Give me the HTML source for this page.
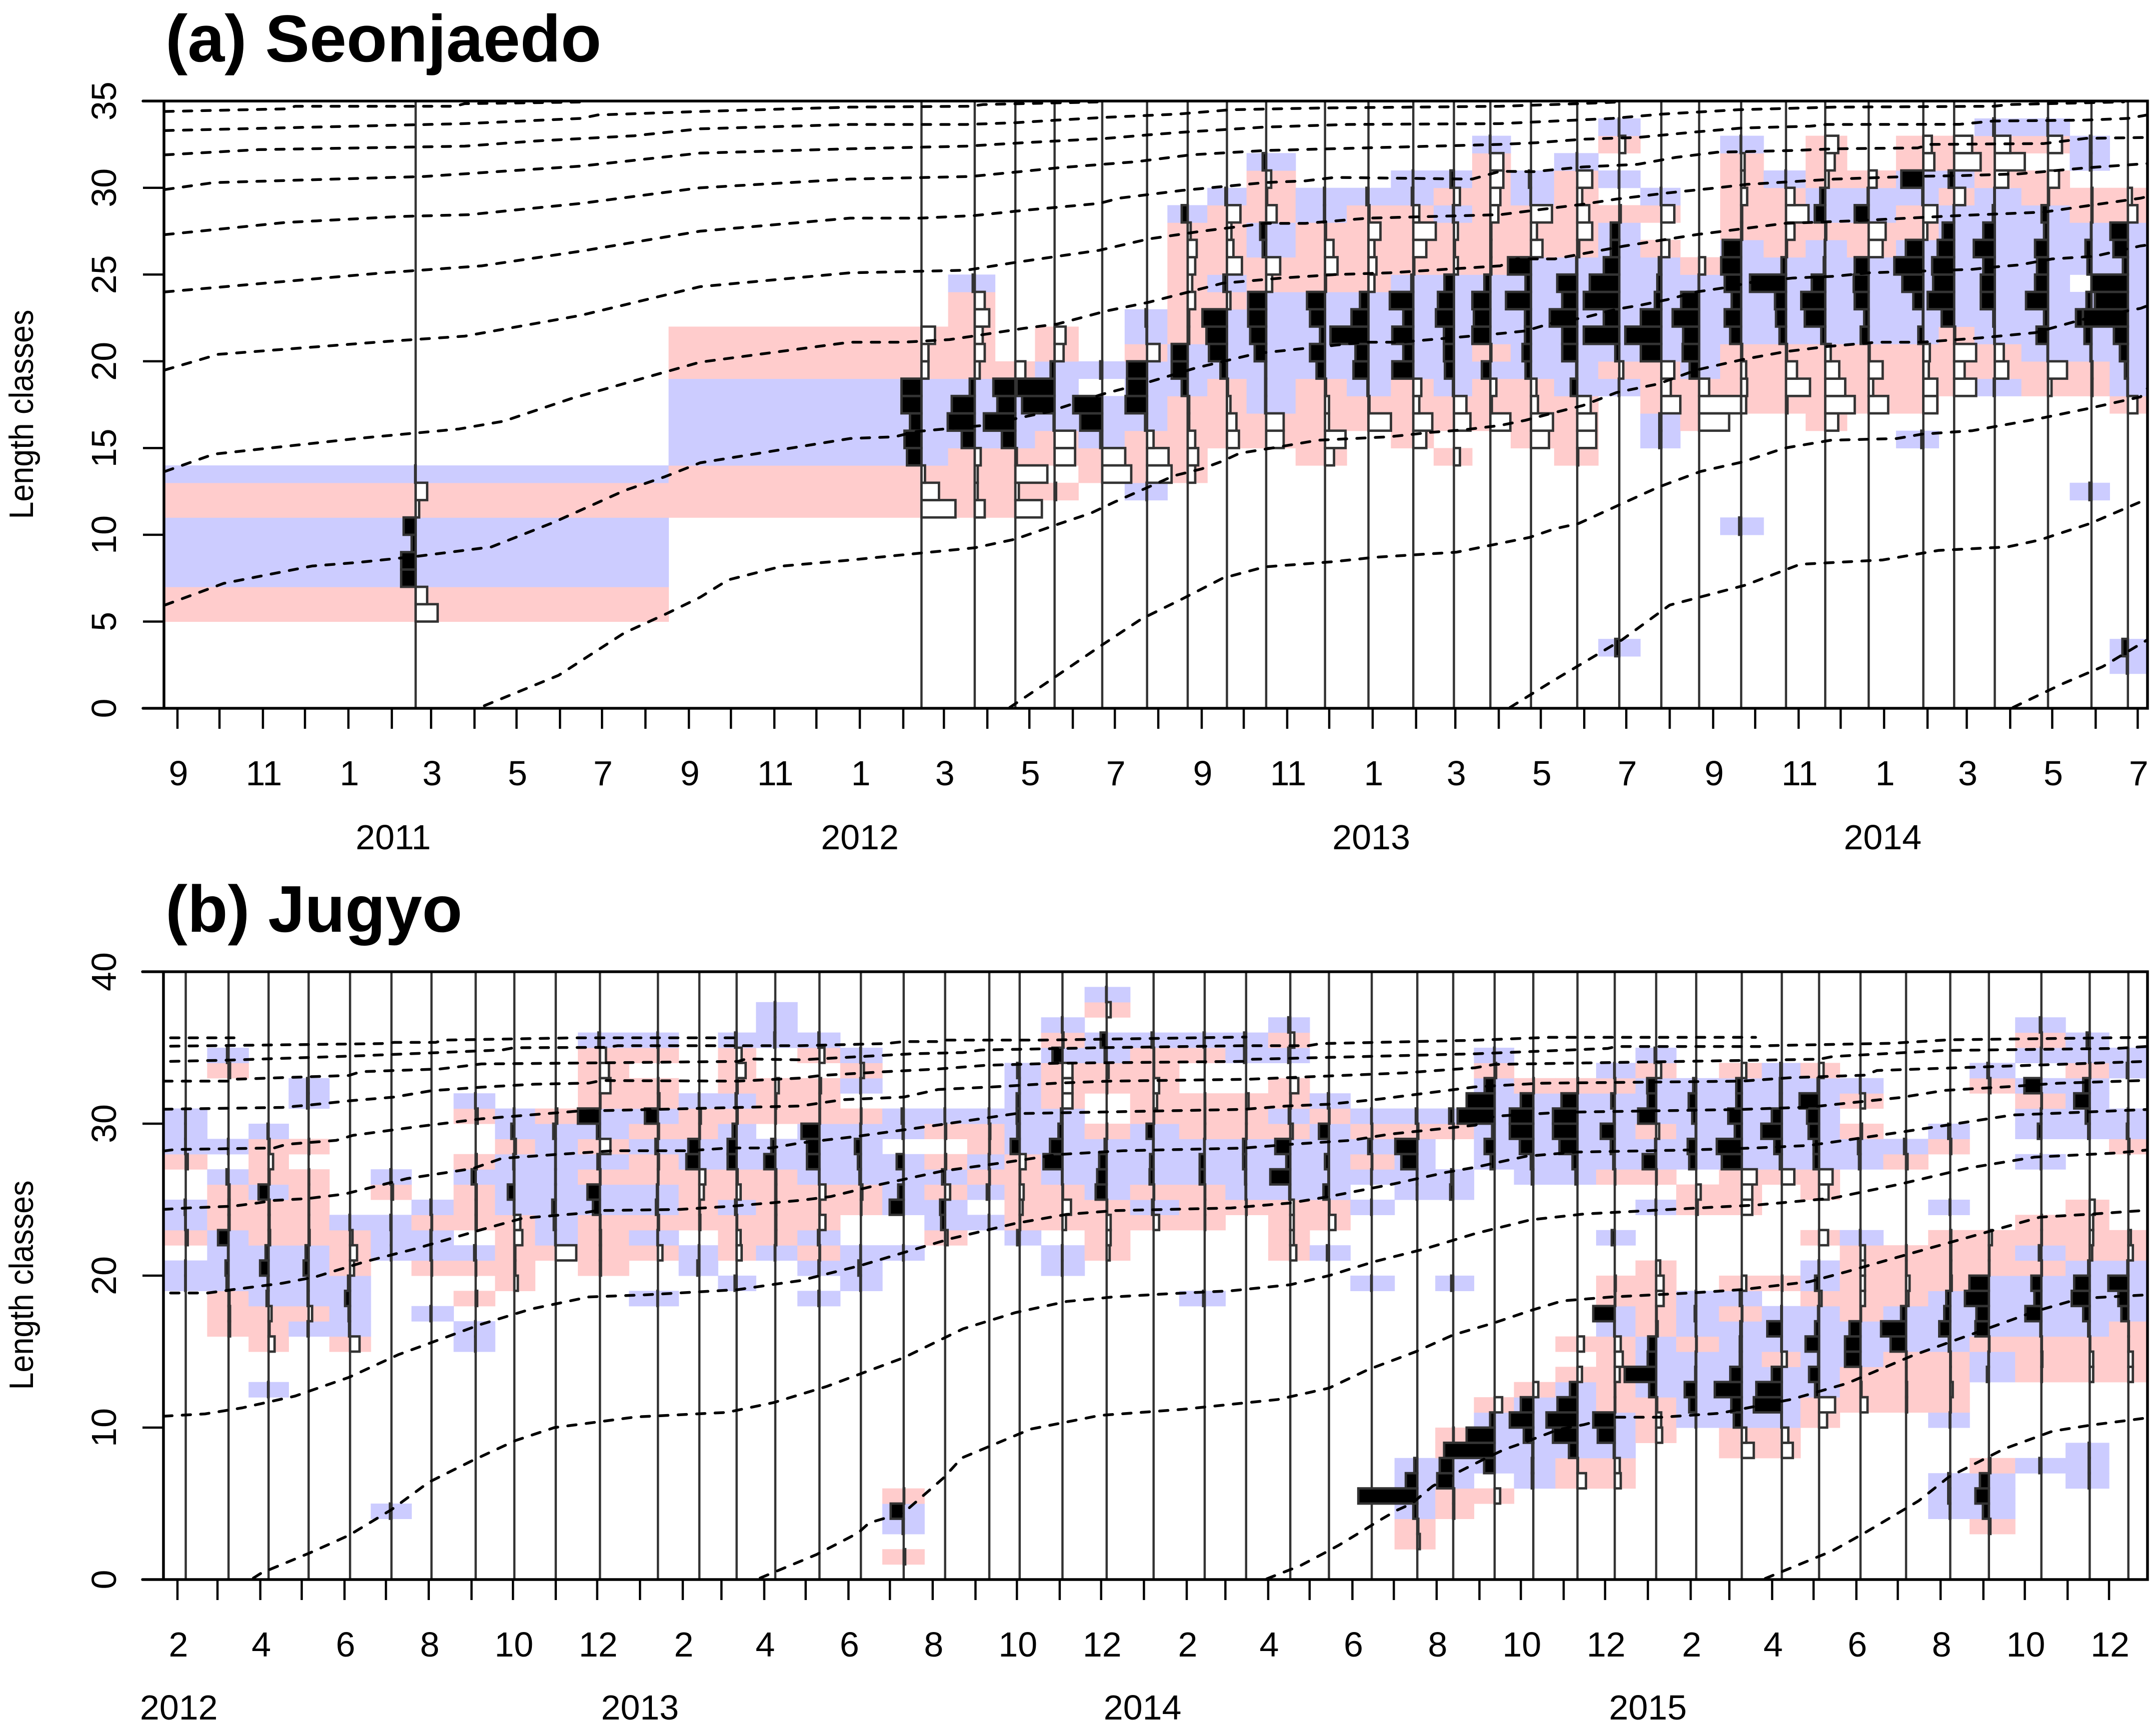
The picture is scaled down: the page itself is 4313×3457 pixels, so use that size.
<!DOCTYPE html>
<html lang="en">
<head>
<meta charset="utf-8">
<title>Length class restructured scores: Seonjaedo and Jugyo</title>
<style>
html,body{margin:0;padding:0;background:#fff}
svg{display:block}
text{font-family:"Liberation Sans",Arial,sans-serif;fill:#000}
</style>
</head>
<body>
<svg id="chart" xmlns="http://www.w3.org/2000/svg" width="4313" height="3457" viewBox="0 0 4313 3457">
<rect x="0" y="0" width="4313" height="3457" fill="#fff"/>
<text x="331" y="123" font-size="133" font-weight="bold">(a) Seonjaedo</text>
<text x="331" y="1864" font-size="132" font-weight="bold">(b) Jugyo</text>
<text transform="translate(66,829) rotate(-90)" text-anchor="middle" font-size="68" textLength="419" lengthAdjust="spacingAndGlyphs">Length classes</text>
<text transform="translate(66,2571) rotate(-90)" text-anchor="middle" font-size="68" textLength="419" lengthAdjust="spacingAndGlyphs">Length classes</text>
<g id="panel-a"></g>
<g id="panel-b"></g>
</svg>
<script>
// ---- Panel (a) Seonjaedo data. Days count from 1 Sep 2010; lengths in length-class units. ----
const sampleDaysA = [170,531,569,598,626,660,692,721,749,777,819,850,882,911,937,966,999,1029,1059,1086,1116,1148,1176,1207,1246,1268,1297,1335,1366,1392];
// each entry: [lowest length class, restructured scores upward from that class]
const scoresA = [
[5,[44,23,-29,-29,-8,-24,7,23,-1]],
[11,[68,35,7,-29,-34,-23,-40,-40,14,14,27]],
[11,[20,6,6,12,-26,-54,-46,-10,10,20,16,29,20,-4]],
[11,[53,7,64,3,-27,-63,-36,-44,20]],
[12,[3,0,41,41,-2,-65,-76,-8,18,22]],
[13,[58,46,-4,-44,-58,0,-4]],
[12,[-1,49,43,13,-4,-43,-40,-40,25,-1,-3]],
[13,[15,21,15,3,3,-12,-32,-32,3,3,15,9,15,18,6,-12]],
[15,[24,19,7,2,-13,-36,-41,-49,7,-7,30,13,9,27,-3]],
[15,[35,35,-2,-2,-2,-23,-32,-36,-36,12,28,-7,-12,21,2,10,-7]],
[14,[18,41,8,8,2,-17,-30,-10,-30,-36,2,25,17,2,-2,-2]],
[16,[45,2,-2,-30,-26,-76,-34,-17,12,16,12,24,2,-4]],
[15,[26,38,12,16,-42,-20,-42,-20,-47,-4,2,26,45,12,-3,-1]],
[14,[12,0,33,25,-2,-18,-20,-20,-36,-32,-19,8,2,8,-2,12,-7]],
[16,[40,3,12,-17,2,-36,-33,-36,-12,2,2,2,16,20,26,26,-1]],
[15,[36,44,14,11,-11,-17,-12,-12,-50,-11,-46,23,12,42,-1,-4]],
[14,[2,38,38,27,-13,-2,-30,-30,-55,-30,-40,-2,4,30,24,10,30,-1]],
[3,[-8,0,0,0,0,0,0,0,0,0,0,0,0,0,0,-1,8,-8,-71,-31,-71,-59,-31,-17,-17,3,0,-1,0,12,-1]],
[15,[-4,-4,38,19,26,-41,-72,-41,-13,-8,-5,16,0,26,-1]],
[16,[60,84,20,-19,-33,-32,-53,-36,-1,12]],
[10,[-4,0,0,0,0,0,0,10,12,10,2,-22,-33,-19,-33,-40,-37,2,2,12,7,7,-1]],
[17,[3,48,22,2,-13,-20,-22,-72,-9,2,17,45,17,-1]],
[16,[26,59,40,28,11,-8,-41,-48,-27,-3,-1,2,-21,-10,7,19,26]],
[17,[39,9,28,2,-16,-9,-28,-30,-28,28,34,-28,-2,16]],
[15,[-4,0,28,28,11,13,-10,-1,-20,-42,-58,-35,8,28,-2,-44,22,17]],
[18,[44,21,44,2,-25,-53,-42,-44,-33,-23,-1,22,-11,53,36]],
[18,[-2,27,18,-1,-3,-28,-28,-23,-42,-23,-4,-1,27,60,31,-3]],
[18,[7,38,-1,-23,-8,-44,-26,-22,-26,-8,-13,2,22,0,28,-1]],
[12,[-4,0,0,0,0,0,2,2,-2,-14,-31,-10,0,-8,-12,-1,2,2,0,-3,-3]],
[2,[-2,-11,0,0,0,0,0,0,0,0,0,0,0,0,0,19,-1,-6,-16,-28,-90,-66,-73,-10,-29,-35,19,8]]
];
// growth curves: [day, length] readings
const curvesA = [
[[-9,34.4],[77,34.55],[84,34.7],[198,34.7],[205,34.85],[294,34.95]],
[[-9,33.3],[205,33.7],[288,34.0],[300,34.2],[373,34.4],[480,34.65],[566,34.7],[575,34.8],[658,34.95]],
[[-9,31.9],[58,32.2],[205,32.4],[256,32.7],[326,33],[373,33.4],[480,33.65],[563,33.65],[598,33.75],[628,33.9],[660,34.05],[714,34.25],[752,34.5],[817,34.6],[944,34.7],[1000,34.85],[1030,34.95]],
[[-9,29.9],[26,30.3],[176,30.65],[288,31.25],[373,32],[480,32.25],[563,32.4],[604,32.6],[663,32.85],[693,33.05],[717,33.2],[776,33.5],[835,33.65],[944,33.7],[1024,34],[1060,34.25],[1114,34.5],[1183,34.65],[1296,34.7],[1308,34.8],[1389,34.95]],
[[-9,27.3],[77,28],[160,28.35],[208,28.45],[288,29.1],[373,30],[480,30.5],[566,30.65],[604,30.95],[628,31.15],[684,31.5],[723,31.9],[776,32.15],[944,32.5],[970,32.6],[1003,32.8],[1042,32.9],[1081,33.2],[1117,33.45],[1165,33.55],[1177,33.65],[1272,33.66],[1296,33.85],[1362,33.9],[1392,34],[1406,34.2]],
[[-9,24],[147,25.1],[217,25.5],[288,26.35],[373,27.5],[480,28.25],[530,28.25],[569,28.4],[604,28.7],[658,29.1],[672,29.4],[717,29.85],[776,30.3],[805,30.4],[826,30.6],[924,30.5],[944,30.95],[968,30.93],[1003,31.2],[1042,31.35],[1069,31.75],[1099,32.05],[1153,32.15],[1183,32.25],[1242,32.3],[1251,32.5],[1332,32.55],[1362,32.85],[1406,32.9]],
[[-9,19.5],[29,20.4],[150,21.15],[205,21.45],[288,22.65],[373,24.3],[480,25.1],[563,25.25],[598,25.7],[628,26.05],[658,26.4],[693,27.05],[731,27.5],[776,27.95],[805,27.95],[850,28.25],[944,28.45],[968,28.7],[1003,29.05],[1027,29.35],[1063,29.7],[1099,30],[1120,30.2],[1183,30.5],[1236,30.65],[1272,30.7],[1314,30.8],[1362,31.15],[1406,31.4]],
[[-9,13.65],[26,14.65],[128,15.55],[201,16.1],[233,16.55],[281,17.85],[373,19.95],[480,21.1],[518,21.1],[551,21.25],[572,21.5],[604,21.9],[628,22.15],[663,22.9],[693,23.4],[746,24.5],[788,24.8],[826,25],[865,25.1],[944,25.5],[956,25.9],[983,25.9],[1033,26.65],[1084,27.3],[1147,27.95],[1198,28.1],[1272,28.4],[1332,28.6],[1362,28.95],[1401,29.4],[1406,29.5]],
[[-9,5.95],[33,7.2],[96,8.2],[128,8.4],[170,8.75],[224,9.3],[268,10.7],[319,12.55],[348,13.35],[373,14.15],[480,15.55],[512,15.65],[527,15.95],[575,16.3],[622,17.1],[660,18.1],[693,18.8],[726,19.6],[770,20.45],[805,20.75],[847,21.1],[873,21.1],[944,21.6],[962,21.75],[983,22.25],[1003,22.5],[1027,23],[1045,23.25],[1063,23.55],[1084,24],[1105,24.25],[1123,24.55],[1153,24.8],[1183,24.9],[1207,25.1],[1245,25.2],[1281,25.3],[1299,25.45],[1314,25.55],[1338,25.9],[1368,26.05],[1401,26.65],[1406,26.7]],
[[219,0.15],[272,1.9],[319,4.35],[349,5.45],[373,6.4],[393,7.4],[432,8.2],[481,8.55],[531,8.95],[569,9.25],[598,9.75],[628,10.6],[652,11.25],[669,11.9],[693,12.75],[711,13.4],[731,13.8],[746,14.25],[758,14.7],[785,15.05],[814,15.45],[865,15.65],[894,15.9],[918,16.05],[944,16.3],[962,16.6],[983,17.05],[1003,17.45],[1027,18.2],[1057,18.7],[1084,19.5],[1117,20.1],[1147,20.55],[1177,20.85],[1213,21.1],[1245,21.1],[1287,21.35],[1326,21.65],[1359,22.4],[1401,23.05],[1406,23.2]],
[[594,0.05],[619,1.4],[658,3.55],[688,5.15],[717,6.3],[746,7.5],[776,8.15],[825,8.45],[854,8.7],[913,9],[965,9.85],[983,10.35],[1000,10.65],[1027,11.65],[1057,12.75],[1087,13.65],[1117,14.2],[1147,15],[1180,15.45],[1227,15.55],[1245,15.8],[1281,16],[1329,16.7],[1365,17.3],[1401,17.95],[1406,18.45]],
[[951,0.05],[982,1.6],[1031,3.95],[1065,5.95],[1119,7.1],[1158,8.3],[1217,8.55],[1257,9.1],[1306,9.3],[1329,9.7],[1365,10.65],[1401,11.9],[1406,12.1]],
[[1310,0.05],[1345,1.4],[1374,2.4],[1406,3.95]]
];
const yTicksA = [0,5,10,15,20,25,30,35];
const xTickLabelsA = ['9','11','1','3','5','7','9','11','1','3','5','7','9','11','1','3','5','7','9','11','1','3','5','7'];
const yearLabelsA = ['2011','2012','2013','2014'];
const yearDaysA = [154,487,852,1217];

// ---- Panel (b) Jugyo data. Days count from 1 Feb 2012; lengths in length-class units. ----
const sampleDaysB = [6,37,66,95,125,155,184,216,244,274,306,348,378,405,433,465,495,526,556,588,610,641,673,707,744,774,806,834,865,898,924,954,982,1014,1041,1071,1100,1133,1162,1189,1219,1252,1284,1312,1350,1385,1413];
// each entry: {length class: restructured score}
const scoresB = [
{19:-1,20:-1,22:4,23:-1,24:-2,27:4,28:-1,29:-1,30:-1},
{16:3,17:3,18:2,19:-4,20:-6,21:-1,22:-21,23:2,24:2,25:2,26:-4,28:-1,33:3,34:-3},
{12:-1,15:12,16:2,17:6,18:-4,19:-2,20:-17,21:-6,22:3,23:2,24:2,25:-20,26:2,27:9,28:2,29:-2},
{16:-2,17:7,18:-2,19:-2,20:-10,21:-6,22:2,23:1,24:1,25:1,26:1,28:1,31:-3,32:-3},
{15:19,16:-2,17:-3,18:-10,19:-4,20:8,21:14,22:5,23:-1},
{4:-3,21:-1,22:-1,23:-2,25:3,26:-2},
{17:-2,20:1,21:-2,22:-2,23:1,24:-2},
{15:-1,16:-1,18:3,20:1,21:-3,23:2,24:2,25:2,26:-8,27:2,30:4,31:-1},
{19:7,20:2,21:2,22:16,23:12,24:-1,25:-13,26:-1,27:-2,28:3,29:-6,30:-1},
{21:41,22:-1,23:-4,24:-7,25:-1,26:-1,27:-1,28:-1,29:-5,30:3},
{20:2,21:2,22:2,23:1,24:-14,25:-25,26:1,27:-5,28:21,29:-6,30:-44,31:1,32:21,33:18,34:12,35:-3},
{18:-1,21:9,22:-1,23:2,24:-4,25:-2,26:1,27:2,28:-5,29:2,30:-26,31:3,32:1,34:1,35:-1},
{20:-4,21:-1,23:2,24:1,25:9,26:12,27:-26,28:-22,29:1,30:3,31:-1},
{19:-4,21:10,22:8,23:1,24:-3,25:8,26:2,27:-18,28:-18,29:-8,30:2,31:-2,32:2,33:18,34:10,35:-3},
{21:-1,22:2,23:2,24:2,25:2,26:2,27:-22,28:-8,30:1,31:2,32:7,35:-2,36:-1,37:-1},
{18:-2,20:-2,21:1,22:-3,23:12,24:1,25:12,26:-1,27:-25,28:-25,29:-36,30:1,31:1,32:3,34:10,35:-2},
{19:-1,20:-5,21:-1,24:1,25:3,26:-3,27:-6,28:-12,29:-1,30:1,32:-1,33:6,34:-1},
{1:3,3:-2,4:-26,5:1,21:-1,24:-28,25:-11,26:-1,27:-14,29:-2,30:-4},
{22:5,23:-8,24:-10,25:10,26:-6,27:2,29:2,30:-1},
{23:-1,25:-5,26:1,27:-1,28:1,29:2,30:-1},
{22:-5,23:1,24:6,25:8,26:1,27:12,28:-18,29:-5,30:-6,31:-6,32:-1,33:-5},
{20:-1,21:-1,23:7,24:17,25:1,26:-1,27:-38,28:-25,29:-8,30:-3,31:20,32:20,33:20,34:-20,35:2,36:-1},
{21:6,22:8,23:8,24:1,25:-22,26:-19,27:-15,28:-4,29:1,32:1,33:4,34:-4,35:-12,37:8,38:-1},
{23:11,24:-3,25:1,26:-8,27:-7,28:-1,29:-14,30:1,31:7,32:11,33:1,34:1,35:-4},
{18:-3,23:1,24:1,25:1,26:-10,27:-10,28:-1,29:1,30:1,31:1,34:1,35:-2},
{24:1,25:-1,26:-2,27:-6,28:-6,29:1,30:1,31:5,34:-4,35:-4},
{21:12,22:7,23:7,24:7,25:-2,26:-40,27:-8,28:-30,29:5,30:-3,31:1,32:16,34:-4,35:8,36:-4},
{21:-4,23:13,24:1,25:-11,26:-1,27:-8,28:-1,29:-20,30:1,31:-2},
{19:-1,24:-1,26:-1,27:1,28:-7,29:1,30:-1},
{2:5,3:2,4:-8,5:-118,6:-23,7:-6,25:-1,26:-1,27:-32,28:-44,29:2,30:-3},
{4:2,5:2,6:-32,7:-27,8:1,9:1,19:-4,25:-6,26:-4,29:1,30:-8},
{5:11,7:-21,8:-101,9:-56,10:-9,11:15,27:-8,28:-20,29:-5,30:-74,31:-56,32:-20,33:3,34:-1},
{6:-3,7:-3,8:-2,9:-19,10:-47,11:-25,12:10,26:-3,27:-5,28:-27,29:-47,30:-47,31:-25,32:1},
{6:17,7:1,8:-17,9:-49,10:-62,11:-40,12:-15,13:9,15:13,26:-4,27:-10,28:-36,29:-49,30:-49,31:-32,32:1},
{6:12,7:10,8:-2,9:-34,10:-43,11:1,12:1,13:10,14:16,15:12,16:-1,17:-43,18:1,19:2,22:-6,26:1,27:-3,28:-8,29:-28,30:-2,31:-7,32:1,33:-1},
{9:12,10:10,11:2,12:-14,13:-63,14:-17,15:-16,16:3,17:1,18:15,19:15,20:8,24:-1,26:1,27:-27,28:-2,29:6,30:-36,31:-17,32:-18,33:10,34:-3},
{10:-1,11:-14,12:-23,13:-2,14:-1,15:1,16:-1,17:-3,18:-1,24:3,25:9,27:-14,28:-17,29:-1,30:-8,31:-15,32:-6},
{8:24,9:9,10:-16,11:-21,12:-54,13:-23,14:-4,15:-4,16:-3,17:1,18:-4,19:9,24:21,25:21,26:30,27:-40,28:-50,29:-14,30:-27,31:-11,32:-11,33:9},
{8:22,9:13,10:-1,11:-56,12:-51,13:-20,14:10,15:-1,16:-29,17:-1,19:1,26:25,27:-4,28:-15,29:-41,30:-20,31:-4,32:-4,33:-3},
{10:16,11:32,12:-8,13:-20,14:-2,15:-27,16:-8,17:-2,18:5,19:-8,20:-1,22:18,25:19,26:27,27:-11,28:-11,29:-21,30:-24,31:-39,32:-3,33:9},
{11:14,12:2,13:1,14:-31,15:-31,16:-22,17:1,18:9,19:9,20:9,21:9,22:-1,27:-3,28:-5,29:3,31:9,32:-1},
{11:2,12:2,13:1,14:1,15:-31,16:-50,17:-10,18:5,19:7,20:1,21:1,27:3,28:-4},
{4:-1,5:-4,6:-4,10:-1,11:1,12:5,13:1,14:1,15:-3,16:-22,17:-12,18:-8,19:3,20:2,21:2,22:2,24:-1,28:2,29:-4},
{3:3,4:-12,5:-27,6:-18,7:3,13:-4,14:-1,15:1,16:-27,17:-25,18:-48,19:-39,20:1,21:1,22:6,32:3,33:-3},
{7:-4,13:1,14:2,15:1,16:-2,17:-32,18:-14,19:-20,20:1,21:-5,22:1,23:1,27:-1,29:-7,30:-1,31:1,32:-34,34:-1,35:1,36:-3},
{6:-2,7:-2,8:-2,13:7,14:7,15:1,16:-3,17:-13,18:-36,19:-31,20:-3,21:5,22:7,23:7,24:10,29:-3,30:-8,31:-31,32:-13,33:1,34:-1,35:-6},
{13:9,14:9,15:1,16:1,17:-14,18:-20,19:-40,20:-2,21:9,22:5,28:2,29:-3,30:-1,33:-3,34:-1}
];
const curvesB = [
[[-5,35.65],[41,35.65]],
[[-5,35.1],[148,35.27],[157,35.35],[187,35.35],[193,35.5],[289,35.65],[406,35.65]],
[[-5,34.1],[37,34.18],[130,34.46],[235,34.85],[244,35],[310,35.02],[319,35.13],[451,35.13],[513,35.27],[526,35.4],[551,35.4],[557,35.5],[626,35.5],[774,35.7]],
[[-10,32.8],[37,32.8],[40,32.92],[124,33.17],[133,33.42],[190,33.6],[205,33.76],[220,33.93],[280,33.98],[406,34.1],[412,34.26],[451,34.2],[498,34.43],[532,34.6],[569,34.68],[582,34.85],[669,35],[772,35.13],[819,35.13],[828,35.27],[940,35.49],[993,35.68],[1143,35.68]],
[[-10,30.95],[76,31.07],[97,31.24],[124,31.5],[157,31.75],[184,32.17],[220,32.4],[259,32.6],[298,32.67],[307,32.84],[406,32.8],[451,33],[466,33.17],[513,33.42],[551,33.6],[585,33.84],[638,33.98],[772,34.1],[775,34.23],[940,34.6],[1036,34.95],[1042,35.08],[1146,35.08],[1150,35.13],[1241,35.29],[1283,35.52],[1426,35.68]],
[[-10,28.2],[-2,28.3],[70,28.4],[79,28.64],[115,28.9],[127,29.23],[175,29.82],[220,30.32],[289,30.82],[451,31.16],[482,31.58],[526,31.75],[551,32.25],[591,32.42],[638,32.67],[675,32.8],[775,32.92],[888,33.34],[940,33.68],[954,33.9],[1133,34.16],[1189,34.24],[1199,34.42],[1280,34.82],[1404,34.95],[1426,35.08]],
[[-10,24.36],[7,24.45],[40,24.57],[58,24.78],[70,24.95],[94,25.07],[121,25.37],[166,26.38],[214,27.05],[235,27.72],[274,27.97],[316,28.22],[370,28.22],[400,28.4],[430,28.4],[451,28.73],[491,29.15],[544,29.82],[607,30.66],[772,30.94],[803,31.16],[834,31.28],[869,31.6],[940,32.42],[987,32.66],[1133,32.8],[1169,33.03],[1222,33.19],[1231,33.5],[1293,33.69],[1426,34.1]],
[[-5,18.86],[22,18.86],[40,19.08],[76,19.5],[100,19.92],[136,20.92],[172,21.76],[220,23.02],[250,23.78],[292,24.1],[304,24.28],[364,24.36],[400,24.56],[451,24.95],[473,25.2],[507,25.96],[554,26.88],[601,27.47],[638,27.97],[685,28.22],[772,28.39],[806,28.64],[850,28.9],[878,29.31],[940,29.9],[954,30.49],[1003,30.75],[1130,30.93],[1182,31.09],[1248,31.72],[1280,32.19],[1329,32.45],[1362,32.66],[1426,32.85]],
[[-10,10.75],[20,10.9],[47,11.3],[85,12.07],[124,13.3],[160,14.8],[220,16.8],[256,17.8],[298,18.6],[340,18.74],[406,19.08],[430,19.4],[451,19.67],[495,20.67],[529,21.6],[560,22.43],[607,23.44],[644,24.03],[679,24.28],[763,24.45],[806,24.78],[834,25.2],[881,26.04],[919,26.8],[940,27.13],[977,27.86],[1013,28.13],[1091,28.26],[1143,28.4],[1182,28.57],[1215,29],[1248,29.44],[1280,29.88],[1329,30.57],[1378,30.75],[1426,30.93]],
[[55,0.1],[61,0.44],[96,1.76],[124,2.9],[155,4.6],[182,6.4],[214,7.85],[245,9.15],[273,10],[307,10.4],[332,10.7],[398,11],[432,11.65],[470,12.7],[526,14.6],[569,16.5],[607,17.57],[644,18.3],[678,18.6],[716,18.8],[763,19],[806,19.4],[834,20],[866,20.9],[903,21.75],[940,22.77],[980,23.67],[1019,24.06],[1101,24.45],[1143,24.64],[1199,25.1],[1248,26.03],[1297,27.08],[1345,27.8],[1404,28.07],[1426,28.26]],
[[422,0.1],[463,1.65],[493,3.07],[501,3.73],[526,4.4],[555,6.7],[568,8],[618,9.9],[668,10.8],[728,11.2],[797,11.85],[834,12.6],[862,13.8],[897,15],[924,16.1],[954,16.9],[980,17.7],[1003,18.34],[1039,18.6],[1098,18.87],[1133,19.08],[1182,19.6],[1209,20.26],[1257,21.5],[1306,22.75],[1349,23.85],[1388,24.06],[1426,24.3]],
[[789,0.05],[813,0.9],[831,1.76],[841,2.25],[859,3.24],[870,3.86],[883,4.55],[894,5],[909,6.14],[929,7.13],[948,8],[961,8.56],[973,8.94],[986,9.38],[1000,9.87],[1019,10.2],[1039,10.68],[1075,10.68],[1117,10.94],[1169,11.86],[1209,12.9],[1257,14.75],[1297,16.06],[1345,17.63],[1378,18.5],[1426,18.73]],
[[1150,0.07],[1199,1.9],[1222,3.07],[1261,5.17],[1283,6.75],[1323,8.6],[1358,9.76],[1385,10.15],[1426,10.63]]
];
const yTicksB = [0,10,20,30,40];
const xTickLabelsB = ['2','4','6','8','10','12','2','4','6','8','10','12','2','4','6','8','10','12','2','4','6','8','10','12'];
const yearLabelsB = ['2012','2013','2014','2015'];
const yearDaysB = [1,335,699,1065];

const NS = 'http://www.w3.org/2000/svg';
function mk(tag, attrs, parent){
  const el = document.createElementNS(NS, tag);
  for (const k in attrs) el.setAttribute(k, attrs[k]);
  parent.appendChild(el);
  return el;
}
function normaliseA(list){
  return list.map(function(entry){
    const out = {};
    entry[1].forEach(function(v,i){ if (v !== 0) out[entry[0]+i] = v; });
    return out;
  });
}
function drawPanel(cfg){
  const root = document.getElementById(cfg.id);
  const x = function(d){ return cfg.x0 + cfg.pxPerDay*d; };
  const y = function(v){ return cfg.yZero - cfg.pxPerUnit*v; };
  const L = cfg.left, R = cfg.right, T = y(cfg.yMax), B = y(0);
  const days = cfg.sampleDays;

  // background score cells
  days.forEach(function(d,i){
    const x1 = i===0 ? L : (x(days[i-1])+x(d))/2;
    const x2 = i===days.length-1 ? R : (x(d)+x(days[i+1]))/2;
    const sc = cfg.scores[i];
    Object.keys(sc).forEach(function(k){
      const c = +k, v = sc[k];
      const cell = mk('rect',{x:x1,y:y(c+1),width:x2-x1+0.6,height:cfg.pxPerUnit+0.6,fill:v<0?'#ccccff':'#ffcccc'},root);
      
      
    });
  });
  // sample lines
  days.forEach(function(d){
    const ln = mk('line',{x1:x(d),x2:x(d),y1:T,y2:B,stroke:'#333',"stroke-width":4.5},root);
    
    
  });
  // histogram bars
  days.forEach(function(d,i){
    const sc = cfg.scores[i];
    Object.keys(sc).forEach(function(k){
      const c = +k, v = sc[k], w = Math.abs(v)*cfg.barScale;
      const bar = mk('rect',{x:v<0?x(d)-w:x(d),y:y(c+1),width:w,height:cfg.pxPerUnit,fill:v<0?'#000':'#fff',stroke:'#333',"stroke-width":4.8},root);
      
      
    });
  });
  // growth curves
  const clipId = cfg.id + '-clip';
  const defs = mk('defs',{},root);
  const cp = mk('clipPath',{id:clipId},defs);
  mk('rect',{x:L,y:T,width:R-L,height:B-T},cp);
  cfg.curves.forEach(function(curve){
    const pts = curve.map(function(p){ return x(p[0]).toFixed(1)+','+y(p[1]).toFixed(1); }).join(' ');
    const pl = mk('polyline',{points:pts,fill:'none',stroke:'#000',"stroke-width":5.5,"stroke-dasharray":'17 20',"stroke-linecap":'round',"stroke-linejoin":'round',"clip-path":'url(#'+clipId+')'},root);
    
    
  });
  // frame
  const frame = mk('path',{d:'M'+(L-42)+' '+T+'H'+R+'V'+B+'H'+(L-42)+'M'+L+' '+T+'V'+B,fill:'none',stroke:'#000',"stroke-width":5.5,"stroke-linecap":'round'},root);
  
  
  // y axis
  cfg.yTicks.forEach(function(v){
    const tk = mk('line',{x1:L-42,x2:L,y1:y(v),y2:y(v),stroke:'#000',"stroke-width":4.5},root);
    
    
    const tx = mk('text',{transform:'translate(232,'+y(v)+') rotate(-90)',"text-anchor":'middle',"font-size":70},root);
    tx.textContent = String(v);
    
    
  });
  // x axis: one tick per calendar month, label every second month
  const nTicks = cfg.tickLabels.length*2 - 1;
  for (let m=0; m<nTicks; m++){
    const dayAt = Math.round((Date.UTC(cfg.startYear, cfg.startMonth+m, 1) - Date.UTC(cfg.startYear, cfg.startMonth, 1))/86400000);
    const tk = mk('line',{x1:x(dayAt),x2:x(dayAt),y1:B,y2:B+41,stroke:'#000',"stroke-width":4.5},root);
    
    
    if (m%2===0){
      const tx = mk('text',{x:x(dayAt)+2,y:cfg.tickBaseline,"text-anchor":'middle',"font-size":70},root);
      tx.textContent = cfg.tickLabels[m/2];
      
      
    }
  }
  cfg.yearLabels.forEach(function(lab,i){
    const tx = mk('text',{x:x(cfg.yearDays[i]),y:cfg.yearBaseline,"text-anchor":'middle',"font-size":70},root);
    tx.textContent = lab;
    
    
  });
}
drawPanel({id:'panel-a',x0:355,pxPerDay:2.803,yZero:1417,pxPerUnit:34.71,yMax:35,left:328,right:4296,barScale:1,
  sampleDays:sampleDaysA,scores:normaliseA(scoresA),curves:curvesA,yTicks:yTicksA,tickLabels:xTickLabelsA,
  yearLabels:yearLabelsA,yearDays:yearDaysA,startYear:2010,startMonth:8,tickBaseline:1571,yearBaseline:1699});
drawPanel({id:'panel-b',x0:355,pxPerDay:2.762,yZero:3160,pxPerUnit:30.4,yMax:40,left:327,right:4296,barScale:1,
  sampleDays:sampleDaysB,scores:scoresB,curves:curvesB,yTicks:yTicksB,tickLabels:xTickLabelsB,
  yearLabels:yearLabelsB,yearDays:yearDaysB,startYear:2012,startMonth:1,tickBaseline:3314,yearBaseline:3440});
</script>
</body>
</html>
